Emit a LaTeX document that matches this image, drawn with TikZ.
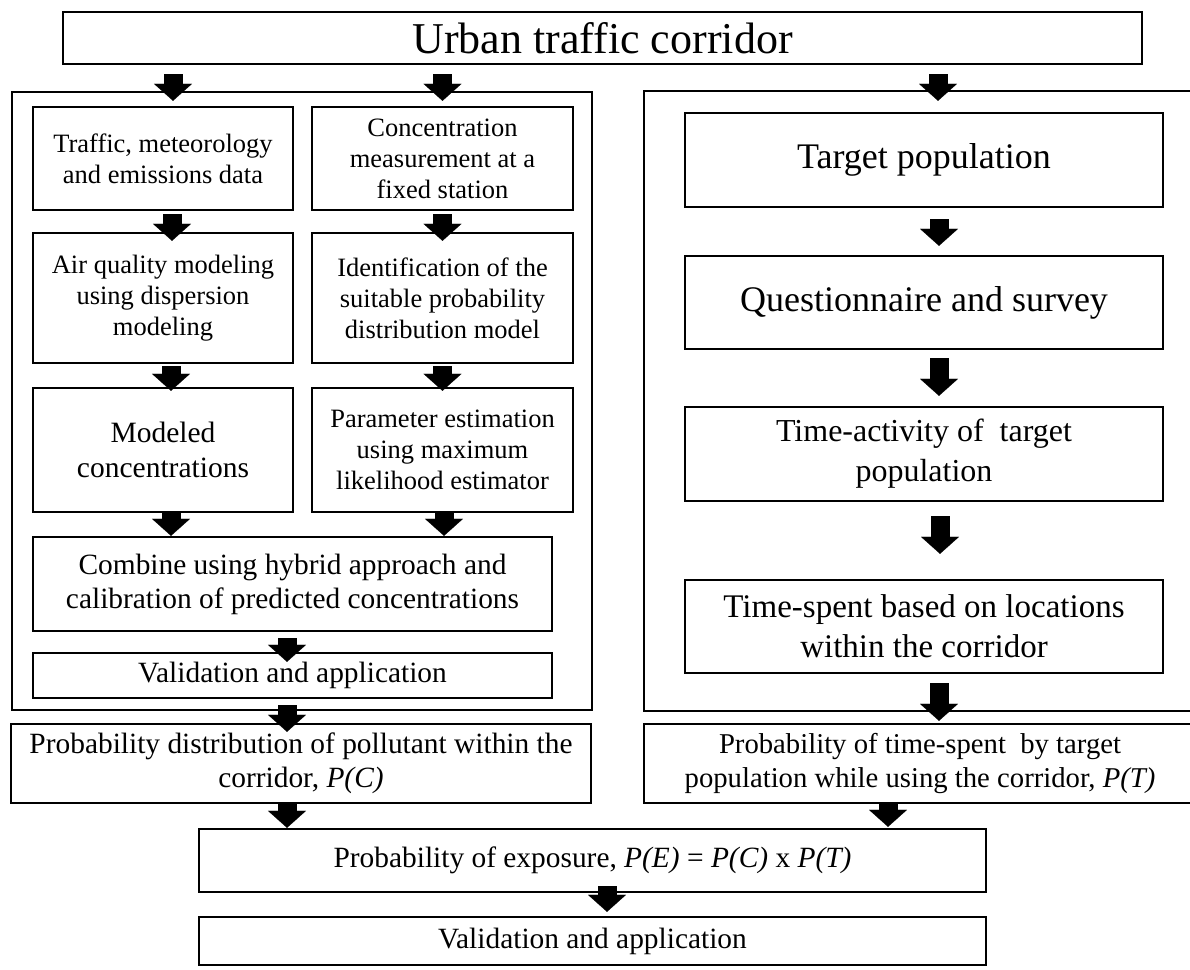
\documentclass[tikz,border=0pt]{standalone}
\usepackage{fontspec}
\setmainfont{Liberation Serif}
\usetikzlibrary{calc}
\usetikzlibrary{arrows.meta}

\begin{document}
\begin{tikzpicture}[x=1pt, y=-1pt, line join=miter,
    box/.style={draw, line width=2.4pt, align=center, inner sep=0pt},
    panel/.style={draw, line width=2.4pt, inner sep=0pt},
    flow/.style={line width=19pt, -{Triangle[width=38pt,length=17pt,line width=0.1pt]}},
    smalltxt/.style={font=\fontsize{26.5}{31}\selectfont},
    midtxt/.style={font=\fontsize{29.4}{34}\selectfont},
    bigtxt/.style={font=\fontsize{36}{41}\selectfont}]
  \useasboundingbox (0,0) rectangle (1190,969);

  % the two frames
  \node[panel, minimum width=580pt, minimum height=618pt] (lf) at (302,401) {};
  \node[panel, minimum width=552pt, minimum height=620pt] (rf) at (920,401) {};

  \node[box, minimum width=1079pt, minimum height=52pt, font=\fontsize{44}{50}\selectfont] (top) at (602.5,38) {Urban traffic corridor};

  % concentration side
  \node[box, smalltxt, minimum width=260pt, minimum height=103pt] (ta) at (163,158.5) {Traffic, meteorology\\and emissions data};
  \node[box, smalltxt, minimum width=261pt, minimum height=103pt] (cm) at (442.5,158.5) {Concentration\\measurement at a\\fixed station};
  \node[box, smalltxt, minimum width=260pt, minimum height=130pt] (aq) at (163,298) {Air quality modeling\\using dispersion\\modeling};
  \node[box, smalltxt, minimum width=261pt, minimum height=130pt] (id) at (442.5,298) {Identification of the\\suitable probability\\distribution model};
  \node[box, minimum width=260pt, minimum height=124pt, font=\fontsize{29.5}{35}\selectfont] (mc) at (163,450) {Modeled\\concentrations};
  \node[box, smalltxt, minimum width=261pt, minimum height=124pt] (pe) at (442.5,450) {Parameter estimation\\using maximum\\likelihood estimator};
  \node[box, midtxt, minimum width=519pt, minimum height=94pt] (cb) at (292.5,584) {Combine using hybrid approach and\\calibration of predicted concentrations};
  \node[box, midtxt, minimum width=519pt, minimum height=45pt] (va) at (292.5,675.5) {Validation and application};

  % time-spent side
  \node[box, bigtxt, minimum width=478pt, minimum height=94pt] (tp) at (924,160) {Target population};
  \node[box, bigtxt, minimum width=478pt, minimum height=93pt] (qs) at (924,302.5) {Questionnaire and survey};
  \node[box, minimum width=478pt, minimum height=94pt, font=\fontsize{32}{40}\selectfont] (tb) at (924,454) {Time-activity of~ target\\population};
  \node[box, minimum width=478pt, minimum height=93pt, font=\fontsize{33}{40}\selectfont] (ts) at (924,626.5) {Time-spent based on locations\\within the corridor};

  % results
  \node[box, midtxt, minimum width=580pt, minimum height=79pt] (pc) at (301,763.5) {Probability distribution of pollutant within the\\corridor, \textit{P(C)}};
  \node[box, minimum width=552pt, minimum height=79pt, font=\fontsize{28.7}{34}\selectfont] (pt) at (920,763.5) {Probability of time-spent~ by target\\population while using the corridor, \textit{P(T)}};
  \node[box, midtxt, minimum width=787pt, minimum height=63pt] (ex) at (592.5,860.5) {Probability of exposure, \textit{P(E)} = \textit{P(C)} x \textit{P(T)}};
  \node[box, midtxt, minimum width=787pt, minimum height=48pt] (fv) at (592.5,941) {Validation and application};

  % arrows
  \draw[flow] ($(ta.north |- top.south)+(10,9)$) -- ($(ta.north)+(10,-5)$);
  \draw[flow] ($(cm.north |- top.south)+(0,9)$) -- ($(cm.north)+(0,-5)$);
  \draw[flow] ($(tp.north |- top.south)+(14,9)$) -- ($(tp.north)+(14,-11)$);
  \draw[flow] ($(ta.south)+(9,3)$) -- ($(aq.north)+(9,9)$);
  \draw[flow] ($(cm.south)+(0,3)$) -- ($(id.north)+(0,9)$);
  \draw[flow] ($(aq.south)+(8,2)$) -- ($(mc.north)+(8,4)$);
  \draw[flow] ($(id.south)+(0,2)$) -- ($(pe.north)+(0,4)$);
  \draw[flow] ($(mc.south)+(8,-2)$) -- ($(mc.south |- cb.north)+(8,0)$);
  \draw[flow] ($(pe.south)+(1.5,-2)$) -- ($(pe.south |- cb.north)+(1.5,0)$);
  \draw[flow] ($(cb.south)+(-5.5,6)$) -- ($(va.north)+(-5.5,10)$);
  \draw[flow] ($(va.south)+(-5.5,6)$) -- ($(va.south |- pc.north)+(-5.5,9)$);
  \draw[flow] ($(tp.south)+(15,11)$) -- ($(qs.north)+(15,-9)$);
  \draw[flow] ($(qs.south)+(15,8)$) -- ($(tb.north)+(15,-10)$);
  \draw[flow] ($(tb.south)+(16,14)$) -- ($(ts.north)+(16,-25)$);
  \draw[flow] ($(ts.south)+(15,9)$) -- ($(ts.south |- pt.north)+(15,-2)$);
  \draw[flow] ($(pc.south)+(-14,0)$) -- ($(pc.south |- ex.north)+(-14,0)$);
  \draw[flow] ($(pt.south)+(-32,0)$) -- ($(pt.south |- ex.north)+(-32,-1)$);
  \draw[flow] ($(ex.south)+(14.5,-7)$) -- ($(fv.north)+(14.5,-4)$);
\end{tikzpicture}
\end{document}
